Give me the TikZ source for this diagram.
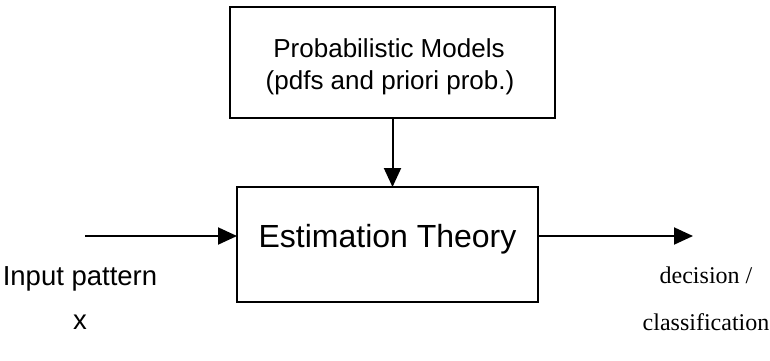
\documentclass[tikz,border=0pt]{standalone}
\usepackage{fontspec}
\setmainfont{Liberation Sans}
\newfontfamily\serifrm{Liberation Serif}
\usetikzlibrary{arrows.meta}
\tikzset{
  box/.style={draw, line width=2pt, outer sep=0pt, inner sep=0pt},
  txt/.style={font=\fontsize{26}{30}\selectfont, inner sep=0pt},
  ltxt/.style={font=\fontsize{27.5}{30}\selectfont, inner sep=0pt},
  rtxt/.style={font=\serifrm\fontsize{24}{28}\selectfont, inner sep=0pt},
  arr/.style={line width=2pt, -{Triangle[length=19pt,width=17pt]}}
}
\begin{document}
\begin{tikzpicture}[x=1pt,y=-1pt]
\useasboundingbox (0,0) rectangle (770,360);
% top box
\node[box, minimum width=325pt, minimum height=111pt] (pm) at (392.5,62.5) {};
\node[txt, anchor=base] (pm1) at (389,57) {Probabilistic Models};
\node[txt, anchor=base] (pm2) at (390,89) {(pdfs and priori prob.)};
% estimation box
\node[box, minimum width=301pt, minimum height=115pt,
      font=\fontsize{32}{36}\selectfont, text height=30pt, text depth=24pt] (est) at (387.5,244.5) {Estimation Theory};
% connectors
\draw[arr] (pm.south) -- (pm.south |- est.north);
\coordinate (in) at (85,236);
\coordinate (out) at (693,236);
\draw[arr] (in) -- (in -| est.west);
\draw[arr] (out -| est.east) -- (out);
% labels
\node[ltxt, anchor=base] (ip) at (80,285) {Input pattern};
\node[ltxt, anchor=base] (x) at (80,329) {x};
\node[rtxt, anchor=base] (dec) at (706,283) {decision /};
\node[rtxt, anchor=base] (cls) at (706,330) {classification};
\end{tikzpicture}
\end{document}
